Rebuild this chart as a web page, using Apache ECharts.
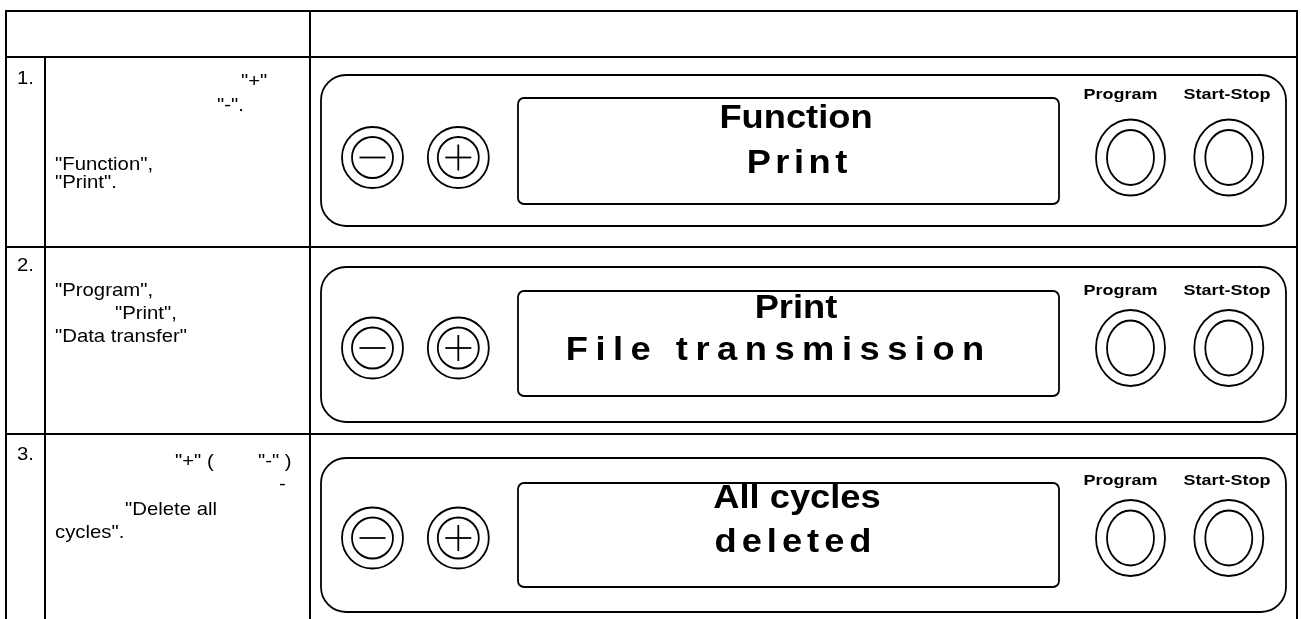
<!DOCTYPE html>
<html><head><meta charset="utf-8">
<script src="https://cdn.jsdelivr.net/npm/echarts@6/dist/echarts.min.js"></script>
<style>html,body{margin:0;padding:0;background:#fff}#c{width:1301px;height:619px}</style>
</head><body><div id="c"></div>
<script>
// ---- content ----
const rowNumbers = ['1.', '2.', '3.'];
const instructionText = [
  ['"+"', '"-".', '"Function",', '"Print".'],
  ['"Program",', '"Print",', '"Data transfer"'],
  ['"+" (', '"-" )', '-', '"Delete all', 'cycles".']
];
const displayLine1 = ['Function', 'Print', 'All cycles'];
const displayLine2 = ['Print', 'File transmission', 'deleted'];
const buttonLabels = ['Program', 'Start-Stop'];

// ---- layout ----
const FONT = '"Liberation Sans", Arial, sans-serif';
const instrPos = [
  [[241, 82], [217, 106], [55, 165], [55, 183]],
  [[55, 291], [115, 314], [55, 337]],
  [[175, 462], [258, 462], [279, 485], [125, 510], [55, 533]]
];
const numY = [79, 266, 455];
const rowsGeom = [
  {pTop: 75, pBot: 226, dTop: 98, dBot: 204, btnY: 157.5, lblY: 95, l1Y: 119, l2Y: 164},
  {pTop: 267, pBot: 422, dTop: 291, dBot: 396, btnY: 348, lblY: 291, l1Y: 309, l2Y: 351},
  {pTop: 458, pBot: 612, dTop: 483, dBot: 587, btnY: 538, lblY: 481, l1Y: 499, l2Y: 543}
];
const l1Center = [796, 796, 797];
const l2Center = [797, 775, 793];
const l2Spacing = [4.5, 7.5, 5];

const canvas = document.createElement('canvas');
const ctx = canvas.getContext('2d');

function textEl(str, x, y, size, weight, align) {
  return {
    type: 'text', x: x, y: y,
    style: {
      text: str, fill: '#000',
      font: weight + ' ' + size + 'px ' + FONT,
      align: align || 'left', verticalAlign: 'middle',
      textAlign: align || 'left', textVerticalAlign: 'middle'
    }
  };
}
function scaledText(str, x, y, size, weight, scale, align) {
  const t = textEl(str, 0, 0, size, weight, align);
  return {type: 'group', x: x, y: y, scaleX: scale, children: [t]};
}
function spacedText(str, cx, cy, size, weight, scale, spacingRef) {
  const font = weight + ' ' + size + 'px ' + FONT;
  ctx.font = font;
  const sp = spacingRef / scale;
  const widths = Array.from(str).map(ch => ctx.measureText(ch).width);
  const total = widths.reduce((a, b) => a + b, 0) + sp * (widths.length - 1);
  let x = -total / 2;
  const kids = [];
  Array.from(str).forEach((ch, i) => {
    kids.push(textEl(ch, x, 0, size, weight, 'left'));
    x += widths[i] + sp;
  });
  return {type: 'group', x: cx, y: cy, scaleX: scale, children: kids};
}
function line(x1, y1, x2, y2, w) {
  return {type: 'line', shape: {x1, y1, x2, y2}, style: {stroke: '#000', lineWidth: w}};
}

const els = [];
// table grid
const TW = 2;
const L = 6, R = 1297, T = 11, HB = 57, C1 = 45, C2 = 310;
const rowBottoms = [247, 434];
els.push(line(L - 1, T, R + 1, T, TW));
els.push(line(L - 1, HB, R + 1, HB, TW));
rowBottoms.forEach(y => els.push(line(L - 1, y, R + 1, y, TW)));
els.push(line(L, T, L, 619, TW));
els.push(line(C1, HB, C1, 619, TW));
els.push(line(C2, T, C2, 619, TW));
els.push(line(R, T, R, 619, TW));

// left column
const LEFT_SIZE = 19, LEFT_SCALE = 1.07;
rowNumbers.forEach((n, i) => els.push(scaledText(n, 17, numY[i], LEFT_SIZE, 'normal', LEFT_SCALE)));
instructionText.forEach((lines, i) => {
  lines.forEach((s, j) => {
    const p = instrPos[i][j];
    els.push(scaledText(s, p[0], p[1], LEFT_SIZE, 'normal', LEFT_SCALE));
  });
});

// panels
const SW = 1.8;
const DISP_SIZE = 33, DISP_SCALE = 1.1;
rowsGeom.forEach((g, i) => {
  els.push({type: 'rect', shape: {x: 321, y: g.pTop, width: 965, height: g.pBot - g.pTop, r: 25},
    style: {fill: 'none', stroke: '#000', lineWidth: SW}});
  els.push({type: 'rect', shape: {x: 518, y: g.dTop, width: 541, height: g.dBot - g.dTop, r: 6},
    style: {fill: 'none', stroke: '#000', lineWidth: SW}});
  // minus / plus buttons
  [372.5, 458.3].forEach((cx, k) => {
    els.push({type: 'circle', shape: {cx: cx, cy: g.btnY, r: 30.5}, style: {fill: 'none', stroke: '#000', lineWidth: SW}});
    els.push({type: 'circle', shape: {cx: cx, cy: g.btnY, r: 20.5}, style: {fill: 'none', stroke: '#000', lineWidth: SW}});
    els.push(line(cx - 13, g.btnY, cx + 13, g.btnY, SW));
    if (k === 1) els.push(line(cx, g.btnY - 13, cx, g.btnY + 13, SW));
  });
  // program / start-stop buttons
  [1130.5, 1228.8].forEach(cx => {
    els.push({type: 'ellipse', shape: {cx: cx, cy: g.btnY, rx: 34.5, ry: 38}, style: {fill: 'none', stroke: '#000', lineWidth: SW}});
    els.push({type: 'ellipse', shape: {cx: cx, cy: g.btnY, rx: 23.5, ry: 27.5}, style: {fill: 'none', stroke: '#000', lineWidth: SW}});
  });
  const lblX = [1120.5, 1227];
  buttonLabels.forEach((lb, k) => els.push(scaledText(lb, lblX[k], g.lblY, 15, 'bold', 1.2, 'center')));
  // display texts
  els.push(spacedText(displayLine1[i], l1Center[i], g.l1Y, DISP_SIZE, 'bold', DISP_SCALE, 0));
  els.push(spacedText(displayLine2[i], l2Center[i], g.l2Y, DISP_SIZE, 'bold', DISP_SCALE, l2Spacing[i]));
});

const chart = echarts.init(document.getElementById('c'), null, {renderer: 'canvas'});
chart.setOption({
  backgroundColor: '#fff',
  animation: false,
  graphic: {elements: els}
});
</script>
</body></html>
